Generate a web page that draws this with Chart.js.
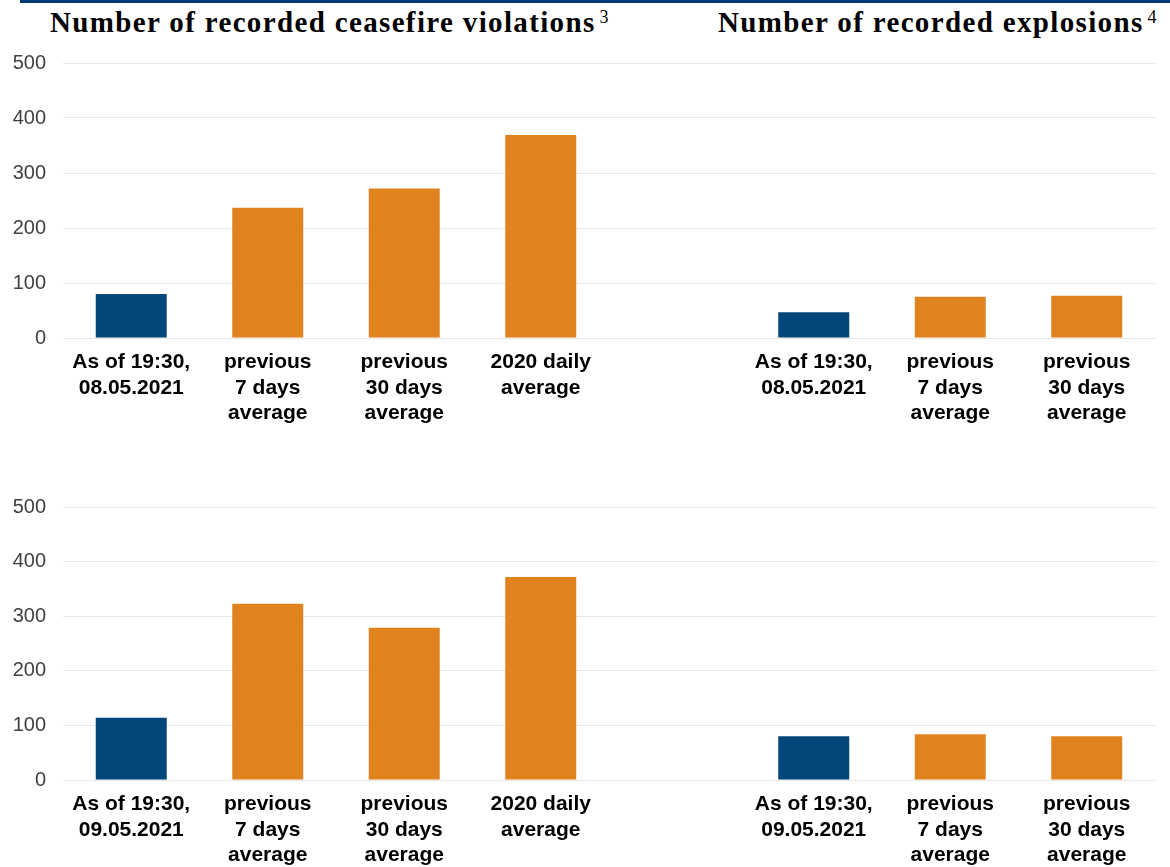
<!DOCTYPE html>
<html>
<head>
<meta charset="utf-8">
<script src="https://cdn.jsdelivr.net/npm/chart.js@4/dist/chart.umd.min.js"></script>
<style>
  body { margin: 0; width: 1170px; height: 867px; overflow: hidden; background: #fff; position: relative; }
  .topline { position: absolute; left: 20px; right: 0; top: 0; height: 3px; background: #003a70; }
  .title { position: absolute; top: 6px; font: bold 29px "Liberation Serif", "Times New Roman", serif; letter-spacing: 1.35px; color: #000; white-space: nowrap; }
  .title sup { font-weight: normal; font-size: 18px; letter-spacing: 0; vertical-align: 0; position: relative; top: -9px; margin-left: 4px; }
  .wrap { position: absolute; left: 0; width: 1170px; }
</style>
</head>
<body>
<div class="topline"></div>
<div class="title" style="left:50px">Number of recorded ceasefire violations<sup>3</sup></div>
<div class="title" style="left:718px">Number of recorded explosions<sup>4</sup></div>
<div class="wrap" style="top:34px;height:394px"><canvas id="top"></canvas></div>
<div class="wrap" style="top:478px;height:392px"><canvas id="bottom"></canvas></div>
<script>
// categories
const cfLabels8 = [['As of 19:30,', '08.05.2021'], ['previous', '7 days', 'average'], ['previous', '30 days', 'average'], ['2020 daily', 'average']];
const exLabels8 = [['As of 19:30,', '08.05.2021'], ['previous', '7 days', 'average'], ['previous', '30 days', 'average']];
const cfLabels9 = [['As of 19:30,', '09.05.2021'], ['previous', '7 days', 'average'], ['previous', '30 days', 'average'], ['2020 daily', 'average']];
const exLabels9 = [['As of 19:30,', '09.05.2021'], ['previous', '7 days', 'average'], ['previous', '30 days', 'average']];

// values
const ceasefire8 = [80, 237, 272, 369];
const explosions8 = [47, 75, 77];
const ceasefire9 = [114, 323, 279, 372];
const explosions9 = [80, 84, 80];

const yTicks = [0, 100, 200, 300, 400, 500];

const BLUE = '#02467a';
const ORANGE = '#e0821e';

function buildRow(id, cfLabels, cfVals, exLabels, exVals) {
  const labels = cfLabels.concat([''], exLabels);
  const data = cfVals.concat([null], exVals);
  const colors = labels.map((l, i) => (i === 0 || i === cfLabels.length + 1) ? BLUE : ORANGE);
  new Chart(document.getElementById(id), {
    type: 'bar',
    data: {
      labels: labels,
      datasets: [{
        data: data,
        backgroundColor: colors,
        borderWidth: 0,
        barPercentage: 1,
        categoryPercentage: 0.52
      }]
    },
    options: {
      responsive: true,
      maintainAspectRatio: false,
      animation: false,
      layout: { padding: { top: 0, right: 15, bottom: 0, left: 0 } },
      plugins: { legend: { display: false }, tooltip: { enabled: false } },
      scales: {
        x: {
          grid: { display: false, drawTicks: false },
          border: { display: false },
          ticks: {
            color: '#000',
            padding: 12,
            maxRotation: 0,
            autoSkip: false,
            font: { family: '"Liberation Sans", Arial, sans-serif', size: 21, weight: 'bold', lineHeight: 1.2 }
          },
          afterFit: s => { s.height = 90; }
        },
        y: {
          min: 0,
          max: 500,
          afterBuildTicks: s => { s.ticks = yTicks.map(v => ({ value: v })); },
          grid: { color: '#e6e6e6', drawTicks: false },
          border: { display: false },
          ticks: {
            color: '#404040',
            padding: 17,
            font: { family: '"Liberation Sans", Arial, sans-serif', size: 20 }
          },
          afterFit: s => { s.width = 63; }
        }
      }
    }
  });
}

buildRow('top', cfLabels8, ceasefire8, exLabels8, explosions8);
buildRow('bottom', cfLabels9, ceasefire9, exLabels9, explosions9);
</script>
</body>
</html>
